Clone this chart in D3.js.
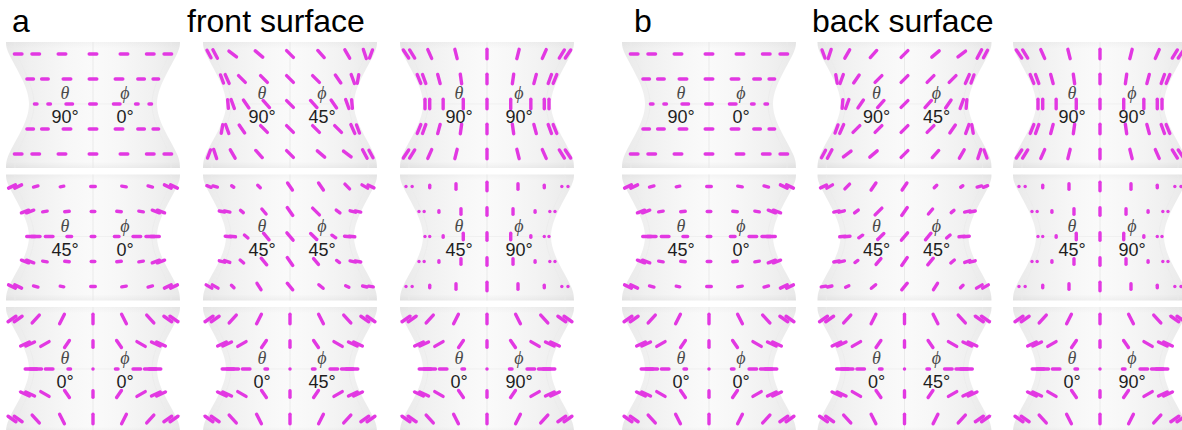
<!DOCTYPE html>
<html><head><meta charset="utf-8">
<script src="https://cdn.jsdelivr.net/npm/d3@7"></script>
<style>body{margin:0;background:#fff}svg{display:block}</style>
</head><body>
<svg id="chart" width="1182" height="430"></svg>
<script>
// ---------------- data ----------------
const panelLetters = ["a", "b"];
const panelTitles = ["front surface", "back surface"];
const thetaLabels = ["90°", "45°", "0°"];   // grid rows
const phiLabels = ["0°", "45°", "90°"];     // grid columns
// longitudes of the sample points around the visible half of the surface
const longitudes = [-90, -67.5, -45, -22.5, 0, 22.5, 45, 67.5, 90];

// segment angles (deg, counter-clockwise from horizontal) and lengths (px) per 5 rows x 9 points
const ang_t90p0 = [
  [0,0,0,0,0,0,0,0,0],[0,0,0,0,0,0,0,0,0],[0,0,0,0,0,0,0,0,0],[0,0,0,0,0,0,0,0,0],[0,0,0,0,0,0,0,0,0]];
const len_t90p0 = [
  [0,11,11,11,11,11,11,11,0],
  [0,10,10,11,11,11,10,9,0],
  [0,6,6,10,10,10,6,6,0],
  [0,10,10,11,11,11,10,9,0],
  [0,11,11,11,11,11,11,11,0]];

const ang_t90p45a = [
  [-62,-62,-38,-40,-45,-48,-60,-72,70],
  [-70,-66,-45,-45,-45,-45,-55,-70,80],
  [-85,-70,-55,-48,-45,-48,-55,-70,-85],
  [80,-70,-55,-45,-45,-45,-45,-66,-70],
  [70,-72,-60,-48,-45,-40,-38,-62,-62]];
const ang_t90p45b = [
  [-70,72,60,48,45,40,38,62,62],
  [-80,70,55,45,45,45,45,66,70],
  [85,70,55,48,45,48,55,70,85],
  [70,66,45,45,45,45,55,70,-80],
  [62,62,38,40,45,48,60,72,-70]];
const len_t90p45 = [
  [12,13,13,13,13,13,13,13,12],
  [12,13,13,13,13,13,13,13,12],
  [12,13,13,13,13,13,13,13,12],
  [12,13,13,13,13,13,13,13,12],
  [12,13,13,13,13,13,13,13,12]];

const ang_t90p90 = [
  [-56,-58,-66,-76,90,76,66,58,56],
  [-68,-70,-75,-82,90,82,75,70,68],
  [90,90,90,90,90,90,90,90,90],
  [68,70,75,82,90,-82,-75,-70,-68],
  [56,58,66,76,90,-76,-66,-58,-56]];
const len_t90p90 = [
  [13,13,13,13,13,13,13,13,13],
  [13,13,13,13,13,13,13,13,13],
  [13,13,13,13,13,13,13,13,13],
  [13,13,13,13,13,13,13,13,13],
  [13,13,13,13,13,13,13,13,13]];

const ang_t45p0 = [
  [25,25,15,10,0,-10,-15,-25,-25],
  [20,20,10,5,0,-5,-10,-20,-20],
  [0,0,0,0,0,0,0,0,0],
  [-20,-20,-10,-5,0,5,10,20,20],
  [-25,-25,-15,-10,0,10,15,25,25]];
const len_t45p0 = [
  [11,11,8,7,8,8,8,11,11],
  [11,11,8,8,7,8,8,11,11],
  [12,12,11,8,7,8,11,12,12],
  [11,11,8,8,7,8,8,11,11],
  [11,11,8,7,8,8,8,11,11]];

const ang_t45p45a = [
  [-20,-15,-35,-45,-56,-56,-45,-30,-25],
  [-10,-12,-40,-50,-55,-45,-37,-15,-12],
  [-5,-5,-40,-50,-50,-45,-35,-5,-5],
  [-15,-20,-40,-50,-55,-50,-35,-12,-10],
  [-30,-30,-45,-58,-50,-40,-25,-12,-10]];
const len_t45p45a = [
  [8,8,6,7,12,12,10,10,10],
  [9,9,7,10,13,13,8,9,9],
  [9,9,8,12,13,12,8,9,9],
  [9,9,8,12,13,11,7,9,9],
  [10,10,7,11,12,9,7,8,8]];
const ang_t45p45b = [
  [25,30,45,56,56,45,35,15,20],
  [12,15,37,45,55,50,40,12,10],
  [5,5,35,45,50,50,40,5,5],
  [10,12,35,50,55,50,40,20,15],
  [10,12,25,40,50,58,45,30,30]];
const len_t45p45b = [
  [10,10,10,12,12,7,6,8,8],
  [9,9,8,13,13,10,7,9,9],
  [9,9,8,12,13,12,8,9,9],
  [9,9,7,11,13,12,8,9,9],
  [8,8,7,9,12,11,7,10,10]];

const ang_t45p90 = [
  [90,90,90,90,90,90,90,90,90],[90,90,90,90,90,90,90,90,90],[90,90,90,90,90,90,90,90,90],
  [90,90,90,90,90,90,90,90,90],[90,90,90,90,90,90,90,90,90]];
const len_t45p90 = [
  [2.5,2.5,6,9,12,9,6,2.5,2.5],
  [2.5,2.5,5,9,11,9,5,2.5,2.5],
  [2.5,2.5,5,10,11,10,5,2.5,2.5],
  [2.5,2.5,5,9,11,9,5,2.5,2.5],
  [2.5,2.5,6,9,12,9,6,2.5,2.5]];

const ang_t0 = [
  [35,35,48,63,90,-63,-48,-35,-35],
  [25,25,30,56,90,-56,-30,-25,-25],
  [0,0,0,0,0,0,0,0,0],
  [-25,-25,-30,-56,90,56,30,25,25],
  [-35,-35,-48,-63,90,63,48,35,35]];
const len_t0 = [
  [13,13,14,14,13,14,14,13,13],
  [13,13,13,12,10,12,13,13,13],
  [15,15,11,6,2.5,6,11,15,15],
  [13,13,13,12,10,12,13,13,13],
  [13,13,14,14,13,14,14,13,13]];

// which pattern sits in which cell (rows: theta, columns: phi)
const cellsA = [["t90p0","t90p45a","t90p90"],["t45p0","t45p45a","t45p90"],["t0","t0","t0"]];
const cellsB = [["t90p0","t90p45b","t90p90"],["t45p0","t45p45b","t45p90"],["t0","t0","t0"]];

const patterns = {
  t90p0: {ang: ang_t90p0, len: len_t90p0},
  t90p45a: {ang: ang_t90p45a, len: len_t90p45},
  t90p45b: {ang: ang_t90p45b, len: len_t90p45},
  t90p90: {ang: ang_t90p90, len: len_t90p90},
  t45p0: {ang: ang_t45p0, len: len_t45p0},
  t45p45a: {ang: ang_t45p45a, len: len_t45p45a},
  t45p45b: {ang: ang_t45p45b, len: len_t45p45b},
  t45p90: {ang: ang_t45p90, len: len_t45p90},
  t0: {ang: ang_t0, len: len_t0}
};

// ---------------- layout ----------------
const svg = d3.select("#chart");
const MAGENTA = "#e238e2";
const SW = 3.4;

const colScales = [
  d3.scalePoint().domain(phiLabels).range([93, 487]),
  d3.scalePoint().domain(phiLabels).range([709, 1100])
];
const rowScale = d3.scalePoint().domain(thetaLabels).range([104, 369]);
const subRow = d3.scalePoint().domain(d3.range(5)).range([-50, 50]);
const rowRadius = [81, 68, 62, 68, 81];
const lonScale = d3.scaleLinear().domain([-90, 90]).range([-Math.PI / 2, Math.PI / 2]);

// shading gradient
const defs = svg.append("defs");
const grad = defs.append("linearGradient").attr("id", "shade")
  .attr("x1", "0%").attr("x2", "100%").attr("y1", "0%").attr("y2", "0%");
[[0, "#e9e9e9"], [0.14, "#f0f0f0"], [0.35, "#f7f7f7"], [0.5, "#fafafa"], [0.65, "#f7f7f7"], [0.86, "#f0f0f0"], [1, "#e9e9e9"]]
  .forEach(([o, c]) => grad.append("stop").attr("offset", o).attr("stop-color", c));
const vgrad = defs.append("linearGradient").attr("id", "vshade")
  .attr("x1", "0%").attr("x2", "0%").attr("y1", "0%").attr("y2", "100%");
[[0, "#000", 0.025], [0.05, "#000", 0], [0.95, "#000", 0], [1, "#000", 0.04]]
  .forEach(([o, c, op]) => vgrad.append("stop").attr("offset", o).attr("stop-color", c).attr("stop-opacity", op));

// surface silhouette profile
const profY = [-62, -50, -25, 0, 25, 50, 64];
const profW = [87, 84, 71, 64, 71, 84, 87];
const sideLine = d3.line().curve(d3.curveNatural);
const leftPts = profY.map((y, i) => [-profW[i], y]);
const rightPts = profY.map((y, i) => [profW[i], y]).reverse();
const lp = sideLine(leftPts), rp = sideLine(rightPts);
const shapePath = lp + "L" + rp.slice(1) + "Z";
const innerW = [78, 76, 65, 59, 65, 76, 78];
const innerL = sideLine(profY.map((y, i) => [-innerW[i], y]));
const innerR = sideLine(profY.map((y, i) => [innerW[i], y]));

panelLetters.forEach((letter, p) => {
  const cells = p === 0 ? cellsA : cellsB;
  const xs = colScales[p];
  thetaLabels.forEach((tl, ri) => {
    phiLabels.forEach((pl, ci) => {
      const cx = xs(pl), cy = rowScale(tl);
      const g = svg.append("g").attr("transform", `translate(${cx},${cy})`);
      g.append("path").attr("d", shapePath).attr("fill", "url(#shade)");
      g.append("path").attr("d", shapePath).attr("fill", "url(#vshade)");
      g.append("path").attr("d", innerL).attr("fill", "none").attr("stroke", "#ebebeb").attr("stroke-width", 0.8);
      g.append("path").attr("d", innerR).attr("fill", "none").attr("stroke", "#ebebeb").attr("stroke-width", 0.8);
      g.append("line").attr("x1", 0).attr("x2", 0).attr("y1", -62).attr("y2", 64)
        .attr("stroke", "#e6e6e6").attr("stroke-width", 0.8);
      g.append("line").attr("x1", -63).attr("x2", 63).attr("y1", 0).attr("y2", 0)
        .attr("stroke", "#ececec").attr("stroke-width", 0.7);

      const pat = patterns[cells[ri][ci]];
      const segs = [];
      for (let r = 0; r < 5; r++) {
        for (let c = 0; c < longitudes.length; c++) {
          const L = pat.len[r][c];
          if (L <= 0) continue;
          segs.push({
            x: rowRadius[r] * Math.sin(lonScale(longitudes[c])),
            y: subRow(r),
            a: pat.ang[r][c],
            h: Math.max((L - SW) / 2, 0.05)
          });
        }
      }
      g.selectAll("line.seg").data(segs).join("line").attr("class", "seg")
        .attr("x1", d => -d.h).attr("x2", d => d.h).attr("y1", 0).attr("y2", 0)
        .attr("transform", d => `translate(${d.x},${d.y}) rotate(${-d.a})`)
        .attr("stroke", MAGENTA).attr("stroke-width", SW).attr("stroke-linecap", "round");

      // labels
      g.append("text").attr("x", -28).attr("y", -5).attr("text-anchor", "middle")
        .attr("font-family", "Liberation Serif, DejaVu Serif, serif").attr("font-style", "italic")
        .attr("font-size", 18).attr("fill", "#4a4a4a").text("θ");
      g.append("text").attr("x", 32).attr("y", -5).attr("text-anchor", "middle")
        .attr("font-family", "Liberation Serif, DejaVu Serif, serif").attr("font-style", "italic")
        .attr("font-size", 18).attr("fill", "#4a4a4a").text("ϕ");
      g.append("text").attr("x", -28).attr("y", 19).attr("text-anchor", "middle")
        .attr("font-family", "Liberation Sans, Arial, sans-serif")
        .attr("font-size", 18).attr("fill", "#1e1e1e").text(tl);
      g.append("text").attr("x", 32).attr("y", 19).attr("text-anchor", "middle")
        .attr("font-family", "Liberation Sans, Arial, sans-serif")
        .attr("font-size", 18).attr("fill", "#1e1e1e").text(pl);
    });
  });
  const px = p === 0 ? 12 : 634;
  const tx = p === 0 ? 187 : 812;
  svg.append("text").attr("x", px).attr("y", 32)
    .attr("font-family", "Liberation Sans, Arial, sans-serif").attr("font-size", 32).attr("fill", "#000").text(letter);
  svg.append("text").attr("x", tx).attr("y", 32)
    .attr("font-family", "Liberation Sans, Arial, sans-serif").attr("font-size", 32).attr("fill", "#000").text(panelTitles[p]);
});
</script>
</body></html>
